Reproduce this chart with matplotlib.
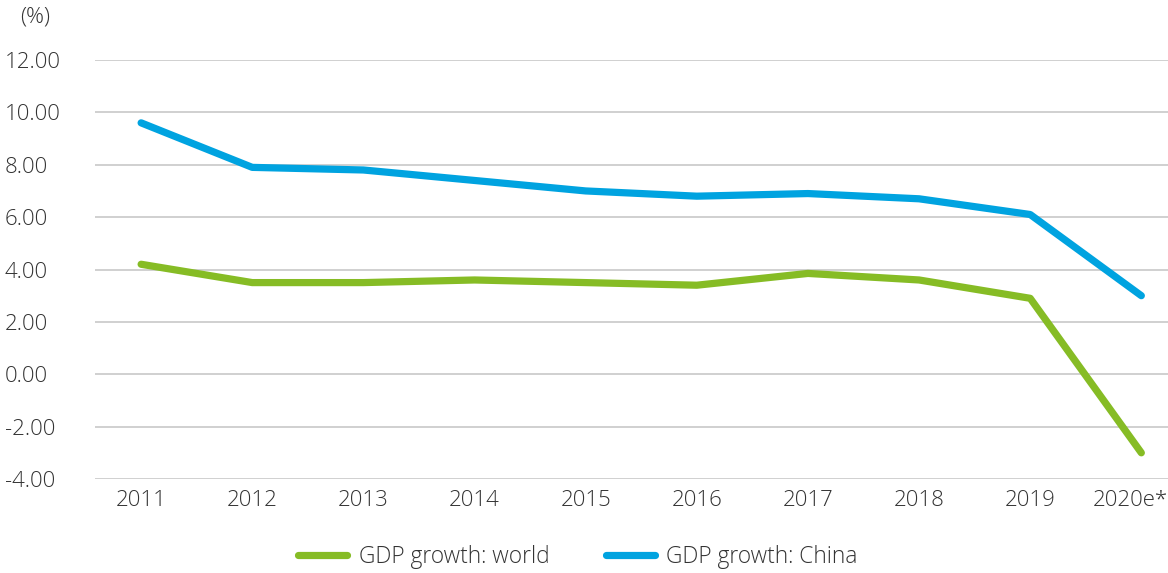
import matplotlib
matplotlib.use("Agg")
import matplotlib.pyplot as plt
import matplotlib.transforms as mtrans
import numpy as np

years = ['2011', '2012', '2013', '2014', '2015', '2016', '2017', '2018', '2019', '2020e*']
gdp_world = [4.2, 3.5, 3.5, 3.6, 3.5, 3.4, 3.85, 3.6, 2.9, -3.0]
gdp_china = [9.6, 7.9, 7.8, 7.4, 7.0, 6.8, 6.9, 6.7, 6.1, 3.0]

plt.rcParams['font.family'] = ['Open Sans', 'DejaVu Sans']
plt.rcParams['font.weight'] = 300
txt_col = '#333333'
fs = 16

fig = plt.figure(figsize=(11.68, 5.73), dpi=100)
ax = fig.add_axes([95/1168, 1-479/573, 1-95/1168, (479-60)/573])

x = np.arange(len(years))
ax.plot(x, gdp_world, color='#86BC25', lw=5.2, solid_capstyle='round',
        solid_joinstyle='round', label='GDP growth: world', zorder=3)
ax.plot(x, gdp_china, color='#00A3E0', lw=5.2, solid_capstyle='round',
        solid_joinstyle='round', label='GDP growth: China', zorder=3)

ax.set_ylim(-4, 12)
ax.set_yticks(np.arange(-4, 13, 2))
ax.set_yticklabels(['%.2f' % v for v in np.arange(-4, 13, 2)])
ax.set_xlim(-0.415, 9.24)
ax.set_xticks(x)
ax.set_xticklabels(years)

ax.grid(axis='y', color='#c8c8c8', lw=1.2)
ax.set_axisbelow(True)
for s in ax.spines.values():
    s.set_visible(False)
ax.tick_params(axis='both', length=0, labelsize=fs, colors=txt_col,
               labelcolor=txt_col)
ax.tick_params(axis='x', pad=8)
for lab in ax.get_yticklabels():
    lab.set_horizontalalignment('left')
    lab.set_transform(mtrans.blended_transform_factory(fig.transFigure, ax.transData))
    lab.set_x(5/1168)
    lab.set_fontweight(300)
for lab in ax.get_xticklabels():
    lab.set_fontweight(300)
# last label sits a bit left so it stays inside the picture
last = ax.get_xticklabels()[-1]
last.set_transform(last.get_transform() + mtrans.ScaledTranslation(-11/100, 0, fig.dpi_scale_trans))

fig.text(20/1168, 1-17/573, '(%)', fontsize=fs, color=txt_col, va='center',
         fontweight=300)

leg = fig.legend(loc='center', bbox_to_anchor=(578/1168, 1-557/573), ncol=2,
                 frameon=False, prop={'size': 16.4, 'weight': 300},
                 handlelength=2.15, columnspacing=2.5,
                 handletextpad=0.5, labelcolor=txt_col)
for h in leg.get_lines():
    h.set_linewidth(5.2)

fig.savefig('out.png', dpi=100)
